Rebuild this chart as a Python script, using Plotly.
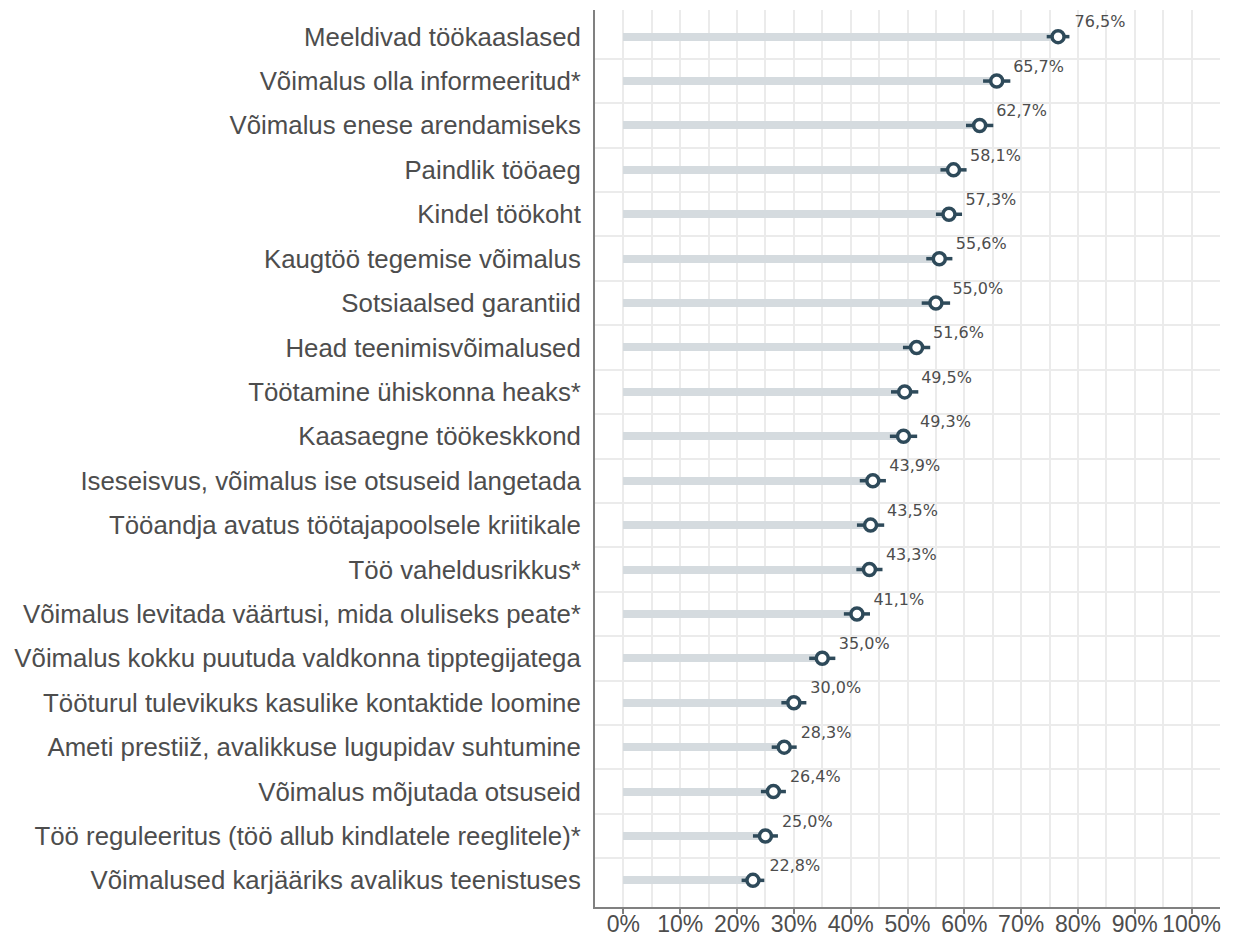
import plotly.graph_objects as go

categories = [
    "Meeldivad töökaaslased",
    "Võimalus olla informeeritud*",
    "Võimalus enese arendamiseks",
    "Paindlik tööaeg",
    "Kindel töökoht",
    "Kaugtöö tegemise võimalus",
    "Sotsiaalsed garantiid",
    "Head teenimisvõimalused",
    "Töötamine ühiskonna heaks*",
    "Kaasaegne töökeskkond",
    "Iseseisvus, võimalus ise otsuseid langetada",
    "Tööandja avatus töötajapoolsele kriitikale",
    "Töö vaheldusrikkus*",
    "Võimalus levitada väärtusi, mida oluliseks peate*",
    "Võimalus kokku puutuda valdkonna tipptegijatega",
    "Tööturul tulevikuks kasulike kontaktide loomine",
    "Ameti prestiiž, avalikkuse lugupidav suhtumine",
    "Võimalus mõjutada otsuseid",
    "Töö reguleeritus (töö allub kindlatele reeglitele)*",
    "Võimalused karjääriks avalikus teenistuses",
]
values = [76.5, 65.7, 62.7, 58.1, 57.3, 55.6, 55.0, 51.6, 49.5, 49.3,
          43.9, 43.5, 43.3, 41.1, 35.0, 30.0, 28.3, 26.4, 25.0, 22.8]
errors = [2.0, 2.4, 2.4, 2.3, 2.3, 2.3, 2.5, 2.4, 2.4, 2.4,
          2.3, 2.4, 2.3, 2.3, 2.3, 2.2, 2.2, 2.2, 2.2, 2.0]
x_ticks = list(range(0, 101, 10))
x_ticktext = [f"{t}%" for t in x_ticks]

pos = list(range(len(categories)))
labels = [f"{v:.1f}%".replace(".", ",") for v in values]

dark = "#2e4a5a"
bar_col = "#d5dbdf"
txt_col = "#4d4d4d"

fig = go.Figure()
fig.add_trace(go.Bar(
    x=values, y=pos, orientation="h", width=0.18,
    marker=dict(color=bar_col, line=dict(width=0)),
    hoverinfo="skip", showlegend=False,
))
fig.add_trace(go.Scatter(
    x=values, y=pos, mode="markers",
    marker=dict(symbol="circle", size=12, color="white",
                line=dict(color=dark, width=3.5)),
    error_x=dict(type="data", array=errors, color=dark, thickness=3.5, width=0),
    showlegend=False,
))
fig.add_trace(go.Scatter(
    x=[v + 2.9 for v in values], y=[p - 0.3 for p in pos],
    mode="text", text=labels, textposition="middle right",
    textfont=dict(family="DejaVu Sans", size=16, color=txt_col),
    showlegend=False, hoverinfo="skip",
))

fig.update_layout(
    width=1231, height=930,
    margin=dict(l=587, r=19, t=2, b=31, autoexpand=False),
    paper_bgcolor="white", plot_bgcolor="white",
    font=dict(family="Liberation Sans", color=txt_col),
    bargap=0,
)
fig.update_xaxes(
    range=[-5, 105], tickmode="array", tickvals=x_ticks, ticktext=x_ticktext,
    tickfont=dict(size=23, color=txt_col), tickangle=0,
    showgrid=True, gridcolor="#ebebeb", gridwidth=1.5,
    minor=dict(tickmode="array", tickvals=[5 + 10 * i for i in range(11)],
               showgrid=True, gridcolor="#ebebeb", gridwidth=1.5),
    showline=True, linecolor="#808080", linewidth=2,
    ticks="outside", ticklen=5, tickwidth=1.5, tickcolor="#808080",
    ticklabelstandoff=-10, automargin=False,
    zeroline=False, fixedrange=True,
)
fig.update_yaxes(
    range=[19.6, -0.6], tickmode="array", tickvals=pos, ticktext=categories,
    tickfont=dict(size=25.8, color=txt_col),
    showgrid=False,
    minor=dict(tickmode="array", tickvals=[p + 0.5 for p in pos[:-1]],
               showgrid=True, gridcolor="#ebebeb", gridwidth=1.5),
    showline=True, linecolor="#808080", linewidth=2,
    ticks="", ticklabelstandoff=7, automargin=False,
    zeroline=False,
)

fig.write_html("out.html")
